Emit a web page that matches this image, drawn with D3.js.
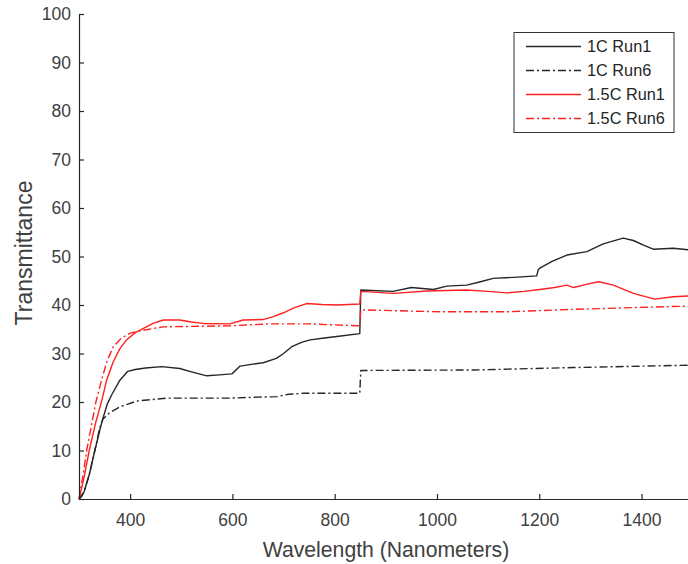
<!DOCTYPE html>
<html><head><meta charset="utf-8">
<script src="https://cdn.jsdelivr.net/npm/d3@7/dist/d3.min.js"></script>
<style>body{margin:0;background:#fff;overflow:hidden}svg{display:block}</style>
</head><body>
<svg id="c" width="688" height="564"></svg>
<script>
const xTicks = [400, 600, 800, 1000, 1200, 1400];
const yTicks = [0, 10, 20, 30, 40, 50, 60, 70, 80, 90, 100];
const seriesNames = ["1C Run1", "1C Run6", "1.5C Run1", "1.5C Run6"];

const c1Run1 = [[300,0],[305,0.5],[310,1.5],[320,5],[331,10],[345,16],[355,19.5],[364,21.5],[380,24.5],[395,26.3],[410,26.7],[430,27],[462,27.3],[497,26.9],[520,26.2],[550,25.4],[575,25.6],[599,25.8],[615,27.4],[640,27.8],[660,28.1],[686,29],[700,30],[716,31.4],[735,32.3],[752,32.8],[780,33.2],[804,33.5],[849,34.1],[851,43.1],[914,42.8],[950,43.6],[993,43.2],[1019,43.9],[1058,44.1],[1085,44.8],[1110,45.5],[1150,45.7],[1195,46.0],[1198,47.3],[1201,47.6],[1225,49],[1254,50.3],[1293,51.0],[1325,52.6],[1364,53.8],[1384,53.3],[1405,52.3],[1423,51.5],[1462,51.7],[1500,51.3]];
const c1Run6 = [[300,0],[310,1.5],[320,5],[331,10],[340,14.5],[347,16.5],[360,17.8],[380,19],[413,20.2],[471,20.8],[595,20.8],[650,21.0],[687,21.1],[710,21.6],[739,21.8],[849,21.8],[851,26.5],[1071,26.6],[1266,27.1],[1500,27.6]];
const c15Run1 = [[300,0],[310,4.5],[320,10],[332,15.5],[345,20.5],[354,24.5],[367,28.3],[380,31],[393,32.8],[410,34.3],[426,35.2],[445,36.2],[465,36.9],[497,36.9],[520,36.5],[543,36.2],[595,36.1],[621,36.9],[660,37.0],[680,37.6],[700,38.4],[720,39.4],[745,40.3],[775,40.1],[804,40.0],[849,40.2],[851,42.8],[915,42.4],[980,42.9],[1058,43.1],[1100,42.8],[1136,42.5],[1170,42.8],[1201,43.2],[1230,43.6],[1254,44.1],[1267,43.6],[1290,44.2],[1316,44.8],[1345,44.1],[1384,42.4],[1426,41.2],[1462,41.7],[1500,41.9]];
const c15Run6 = [[300,0],[308,5],[315,10],[324,15],[333,20],[344,24.5],[355,28.5],[367,31.4],[383,33.2],[400,34.2],[426,34.8],[465,35.5],[595,35.7],[673,36.1],[752,36.1],[800,35.9],[849,35.7],[851,39.0],[1006,38.6],[1136,38.6],[1267,39.1],[1397,39.5],[1500,39.8]];

const seriesData = [c1Run1, c1Run6, c15Run1, c15Run6];
const seriesColor = ["#262626", "#262626", "#ff2020", "#ff2020"];
const seriesDash = [null, "8,3,2,3", null, "8,3,2,3"];

const svg = d3.select("#c");
const x = d3.scaleLinear().domain([300, 1500]).range([79, 692.7]);
const y = d3.scaleLinear().domain([0, 100]).range([499, 14]);
const axisColor = "#262626";
const font = "'Liberation Sans', Arial, sans-serif";

// lines
const line = d3.line().x(d => x(d[0])).y(d => y(d[1]));
seriesData.forEach((s, i) => {
  svg.append("path").datum(s).attr("d", line)
    .attr("fill", "none").attr("stroke", seriesColor[i]).attr("stroke-width", 1.4)
    .attr("stroke-dasharray", seriesDash[i]).attr("stroke-linejoin", "round");
});

// axes
const xAxis = svg.append("g").attr("transform", `translate(0,${y(0)})`)
  .call(d3.axisBottom(x).tickValues(xTicks).tickFormat(d3.format("d")).tickSize(-5).tickPadding(15).tickSizeOuter(0));
const yAxis = svg.append("g").attr("transform", `translate(${x(300)},0)`)
  .call(d3.axisLeft(y).tickValues(yTicks).tickFormat(d3.format("d")).tickSize(-5).tickPadding(8).tickSizeOuter(0));
[xAxis, yAxis].forEach(g => {
  g.select(".domain").attr("stroke", axisColor).attr("stroke-width", 1.2);
  g.selectAll(".tick line").attr("stroke", axisColor).attr("stroke-width", 1.2);
  g.selectAll(".tick text").attr("fill", "#404040").attr("font-family", font).attr("font-size", 17.5);
});

// axis labels
svg.append("text").attr("x", 386).attr("y", 557).attr("text-anchor", "middle")
  .attr("font-family", font).attr("font-size", 21.2).attr("fill", "#404040")
  .text("Wavelength (Nanometers)");
svg.append("text").attr("transform", "translate(32,253) rotate(-90)").attr("text-anchor", "middle")
  .attr("font-family", font).attr("font-size", 23).attr("fill", "#404040")
  .text("Transmittance");

// legend
const lg = svg.append("g");
lg.append("rect").attr("x", 514).attr("y", 32.5).attr("width", 160).attr("height", 100)
  .attr("fill", "#fff").attr("stroke", "#333").attr("stroke-width", 1);
seriesNames.forEach((n, i) => {
  const yy = 46.5 + i * 24;
  lg.append("line").attr("x1", 526).attr("x2", 581).attr("y1", yy).attr("y2", yy)
    .attr("stroke", seriesColor[i]).attr("stroke-width", 1.4).attr("stroke-dasharray", seriesDash[i]);
  lg.append("text").attr("x", 587).attr("y", yy + 5.7).attr("font-family", font).attr("font-size", 16.3)
    .attr("fill", "#262626").text(n);
});
</script>
</body></html>
